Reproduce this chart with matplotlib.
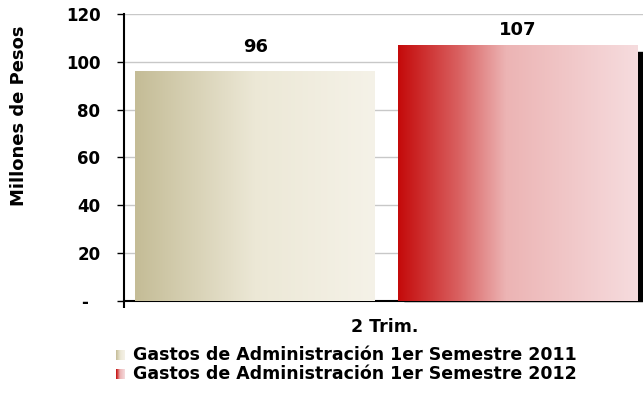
import numpy as np
import matplotlib
matplotlib.use("Agg")
import matplotlib.pyplot as plt
from matplotlib.colors import LinearSegmentedColormap
from matplotlib.patches import Rectangle

plt.rcParams['font.family'] = ['DejaVu Sans']
plt.rcParams['font.weight'] = 'bold'

# data
categories = ['2 Trim.']
series_names = ['Gastos de Administración 1er Semestre 2011',
                'Gastos de Administración 1er Semestre 2012']
values = [96, 107]
yticks = [0, 20, 40, 60, 80, 100, 120]
ytick_labels = ['-  ', '20', '40', '60', '80', '100', '120']

cmap_2011 = LinearSegmentedColormap.from_list(
    'g2011', [(0, '#c4bc96'), (0.5, '#ece8d6'), (1, '#f5f2e8')])
cmap_2012 = LinearSegmentedColormap.from_list(
    'g2012', [(0, '#c40a0a'), (0.25, '#d96060'), (0.45, '#ecb4b4'), (1, '#f6dcde')])
cmaps = [cmap_2011, cmap_2012]

fig = plt.figure(figsize=(6.43, 4.11), dpi=100)
ax = fig.add_axes([0.193, 0.268, 0.812, 0.698])

grad = np.linspace(0, 1, 256).reshape(1, -1)
offsets = [-0.249, 0.254]
width = 0.459
for i, (v, off) in enumerate(zip(values, offsets)):
    x0 = off - width / 2
    if i == 1:
        # drop shadow behind the 2012 bar
        ax.add_patch(Rectangle((x0 + 0.012, 0), width, v - 3, color='black', zorder=2,
                               clip_on=False))
    bar = ax.bar(off, v, width=width, color='none', zorder=3)[0]
    im = ax.imshow(grad, cmap=cmaps[i], aspect='auto', extent=[x0, x0 + width, 0, v],
                   zorder=3)
    im.set_clip_path(bar)
    # label sits above the bar but is kept inside the plot area (like Excel does)
    ax.text(off, min(v + 6.5, 109.5), str(v), ha='center', va='bottom', fontsize=13,
            fontweight='bold')

ax.set_xlim(-0.5, 0.5)
ax.set_ylim(0, 120)
ax.set_yticks(yticks)
ax.set_yticklabels(ytick_labels, fontsize=12, fontweight='bold')
ax.set_xticks([0])
ax.set_xticklabels(categories, fontsize=12.5, fontweight='bold')
ax.set_xticks([-0.5], minor=True)
ax.tick_params(axis='x', which='major', length=0, pad=12)
ax.tick_params(axis='x', which='minor', length=5, width=1.5, direction='out')
ax.tick_params(axis='y', length=5, width=1, direction='out', pad=12)
ax.grid(axis='y', color='#c8c8c8', linewidth=1)
ax.set_axisbelow(True)
for s in ['top', 'right']:
    ax.spines[s].set_visible(False)
ax.spines['left'].set_linewidth(1.5)
ax.spines['bottom'].set_linewidth(1.5)

fig.text(19 / 643, 1 - 116 / 411, 'Millones de Pesos', rotation=90, ha='center',
         va='center', fontsize=13, fontweight='bold')

# legend
leg_y = [1 - 355 / 411, 1 - 374 / 411]
for i, name in enumerate(series_names):
    lax = fig.add_axes([116 / 643, leg_y[i] - 5 / 411, 9 / 643, 10 / 411])
    lax.imshow(grad, cmap=cmaps[i], aspect='auto')
    lax.axis('off')
    fig.text(133 / 643, leg_y[i], name, ha='left', va='center', fontsize=12.5,
             fontweight='bold')

fig.savefig('out.png', dpi=100)
